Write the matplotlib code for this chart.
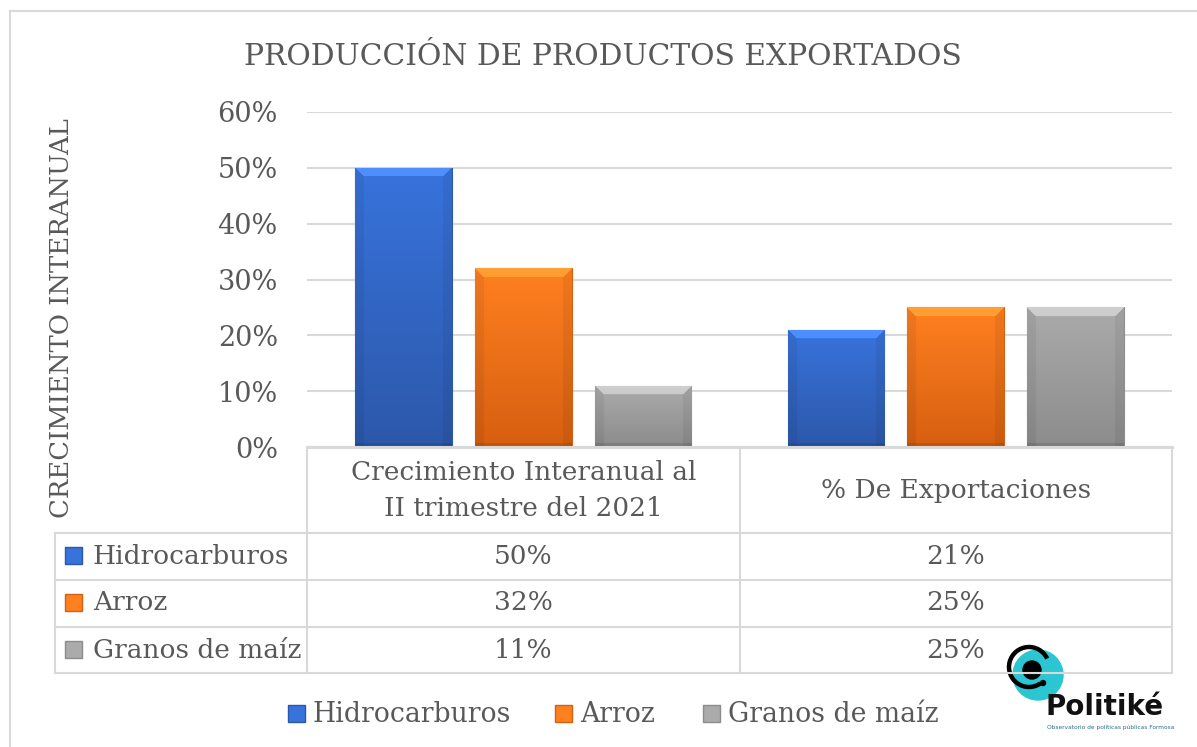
'''
Producción de productos exportados - grouped bars with data table (Excel look)
'''
import numpy as np
import matplotlib.pyplot as plt
from matplotlib.patches import Rectangle, Circle, Arc
from matplotlib.lines import Line2D
from matplotlib.colors import to_rgb

# data
categories = ['Crecimiento Interanual al\nII trimestre del 2021', '% De Exportaciones']
series_names = ['Hidrocarburos', 'Arroz', 'Granos de maíz']
hidrocarburos = [50, 21]
arroz = [32, 25]
granos_maiz = [11, 25]
yticks = [0, 10, 20, 30, 40, 50, 60]

series_values = [hidrocarburos, arroz, granos_maiz]
top_colors = ['#3873DC', '#FF8020', '#ABABAB']
bottom_colors = ['#2C58AA', '#D65F10', '#8C8C8C']

W, H = 1197, 747
TXT = '#595959'
GRID = '#D9D9D9'
plt.rcParams['font.family'] = ['DejaVu Serif']

fig = plt.figure(figsize=(W / 100, H / 100), dpi=100)


def fx(px):
    return px / W


def fy(py):
    return 1 - py / H


def bevel_image(c_top, c_bot, nrows, ncols, bev=9):
    '''vertical gradient with a lighter top bevel and darker sides'''
    t = np.linspace(0, 1, nrows)[:, None, None]
    img = (1 - t) * np.array(to_rgb(c_top)) + t * np.array(to_rgb(c_bot))
    img = np.repeat(img, ncols, axis=1)
    rows = np.arange(nrows)[:, None]
    cols = np.arange(ncols)[None, :]
    top_band = (rows < bev) & (cols >= rows) & (cols < ncols - rows)
    img[top_band] = np.clip(img[top_band] * 1.12 + 0.06, 0, 1)
    side = ((cols < bev) | (cols >= ncols - bev)) & ~top_band
    img[side] = img[side] * 0.94
    img[nrows - 4:] = img[nrows - 4:] * 0.9
    return np.clip(img, 0, 1)


# plot area
ax = fig.add_axes([fx(307), fy(447), fx(1172) - fx(307), fy(112) - fy(447)])
ax.set_xlim(-0.5, 1.5)
ax.set_ylim(0, 60)
ax.set_yticks(yticks)
ax.set_yticklabels([f'{v}%' for v in yticks], fontsize=19.5, color=TXT)
ax.tick_params(axis='y', length=0, pad=21)
ax.set_xticks([])
for s in ax.spines.values():
    s.set_visible(False)
ax.grid(axis='y', color=GRID, lw=1.5)
ax.set_axisbelow(True)

x = np.arange(len(categories))
width = 0.224
offsets = [-0.277, 0, 0.277]
px_per_unit_y = 335 / 60
px_per_unit_x = 865 / 2
for vals, off, ct, cb in zip(series_values, offsets, top_colors, bottom_colors):
    bars = ax.bar(x + off, vals, width, color=cb, edgecolor=cb, lw=0.8, zorder=2)
    for b in bars:
        h_px = max(int(b.get_height() * px_per_unit_y), 12)
        w_px = int(width * px_per_unit_x)
        img = bevel_image(ct, cb, h_px, w_px)
        im = ax.imshow(img, extent=(b.get_x(), b.get_x() + b.get_width(), 0, b.get_height()),
                       aspect='auto', zorder=3, interpolation='bilinear')
        im.set_clip_path(b)
ax.set_xlim(-0.5, 1.5)
ax.set_ylim(0, 60)

# y label and title
fig.text(fx(62), fy(318), 'CRECIMIENTO INTERANUAL', rotation=90, ha='center', va='center',
         fontsize=18.6, color=TXT)
fig.text(fx(603), fy(57), 'PRODUCCIÓN DE PRODUCTOS EXPORTADOS', ha='center', va='center',
         fontsize=21.4, color=TXT)


# data table
def hline(y, x0, x1, lw=1.5):
    fig.add_artist(Line2D([fx(x0), fx(x1)], [fy(y), fy(y)], color=GRID, lw=lw))


def vline(xp, y0, y1, lw=1.5):
    fig.add_artist(Line2D([fx(xp), fx(xp)], [fy(y0), fy(y1)], color=GRID, lw=lw))


hline(447, 307, 1172, lw=2.2)
for yy in [533, 580, 627, 673]:
    hline(yy, 55, 1172)
vline(55, 533, 673)
for xx in [307, 740, 1172]:
    vline(xx, 447, 673)

col_centers = [523.5, 956]
for cat, cx in zip(categories, col_centers):
    fig.text(fx(cx), fy(491), cat, ha='center', va='center', fontsize=19, color=TXT,
             linespacing=1.55)

row_centers = [556, 603, 650]
for name, vals, ct, cb, ry in zip(series_names, series_values, top_colors, bottom_colors,
                                  row_centers):
    fig.add_artist(Rectangle((fx(65), fy(ry + 8)), fx(17), 17 / H, facecolor=ct,
                             edgecolor=cb, lw=1))
    fig.text(fx(93), fy(ry), name, ha='left', va='center', fontsize=19, color=TXT)
    for v, cx in zip(vals, col_centers):
        fig.text(fx(cx), fy(ry), f'{v}%', ha='center', va='center', fontsize=19, color=TXT)

# legend
legend_x = [288, 555, 703]
for name, ct, cb, lx in zip(series_names, top_colors, bottom_colors, legend_x):
    fig.add_artist(Rectangle((fx(lx), fy(722)), fx(17), 17 / H, facecolor=ct,
                             edgecolor=cb, lw=1))
    fig.text(fx(lx + 25), fy(714), name, ha='left', va='center', fontsize=19.2, color=TXT)

# outer chart border
fig.add_artist(Line2D([fx(10), fx(1197)], [fy(11), fy(11)], color=GRID, lw=1.5))
fig.add_artist(Line2D([fx(10), fx(10)], [fy(11), fy(747)], color=GRID, lw=1.5))

# logo (approximation)
lax = fig.add_axes([fx(990), fy(745), fx(1185) - fx(990), fy(630) - fy(745)])
lax.set_xlim(0, 195)
lax.set_ylim(115, 0)
lax.set_aspect('equal')
lax.axis('off')
lax.add_patch(Circle((48, 45), 25, color='#2CC6D2', zorder=1))
lax.add_patch(Arc((39, 37), 40, 40, theta1=55, theta2=335, color='black', lw=3.2, zorder=2))
lax.add_patch(Circle((42, 40), 9, color='black', zorder=3))
lax.add_patch(Circle((53, 53), 2.5, color='black', zorder=3))
lax.text(55, 85, 'Politiké', fontsize=20, fontweight='bold', family='DejaVu Sans',
         color='#111111', va='baseline', ha='left')
lax.text(57, 99, 'Observatorio de políticas públicas Formosa', fontsize=4.2,
         family='DejaVu Sans', color='#2B6C8A', va='baseline', ha='left')

fig.savefig('out.png', dpi=100)
